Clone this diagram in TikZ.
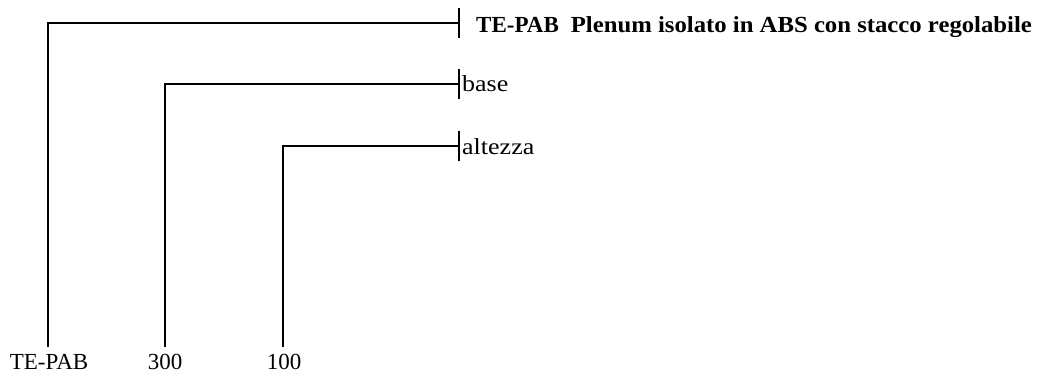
\documentclass[tikz,border=0pt]{standalone}
\usepackage{fontspec}
\usepackage{graphicx}
\setmainfont{Liberation Serif}
\begin{document}
\begin{tikzpicture}[x=1pt,y=-1pt,
  wire/.style={line width=2pt,line cap=butt},
  lbl/.style={inner sep=0pt,font=\fontsize{23}{26}\selectfont},
  itemlbl/.style={lbl,anchor=base west},
  leaflbl/.style={lbl,anchor=base}]
\useasboundingbox (0,0) rectangle (1039,377);
% tick points on the right
\coordinate (t1) at (459,23);
\coordinate (t2) at (459,84);
\coordinate (t3) at (459,146);
% leaf ends at the bottom
\coordinate (b1) at (48,347);
\coordinate (b2) at (165,347);
\coordinate (b3) at (283,347);
% connectors
\draw[wire] (b1) |- (t1);
\draw[wire] (b2) |- (t2);
\draw[wire] (b3) |- (t3);
% ticks
\draw[wire] ([yshift=-15pt]t1) -- ([yshift=15pt]t1);
\draw[wire] ([yshift=-15pt]t2) -- ([yshift=15pt]t2);
\draw[wire] ([yshift=-15pt]t3) -- ([yshift=15pt]t3);
% labels on the right
\node[itemlbl] (n1) at (476,33) {\bfseries TE-PAB\hspace{12pt}\scalebox{1.075}[1]{Plenum isolato in ABS con stacco regolabile}};
\node[itemlbl] (n2) at (462,92) {\scalebox{1.13}[1]{base}};
\node[itemlbl] (n3) at (462,154) {\scalebox{1.13}[1]{altezza}};
% labels at the bottom
\node[leaflbl] (l1) at (49,369) {TE-PAB};
\node[leaflbl] (l2) at (165,369) {300};
\node[leaflbl] (l3) at (284,369) {100};
\end{tikzpicture}
\end{document}
